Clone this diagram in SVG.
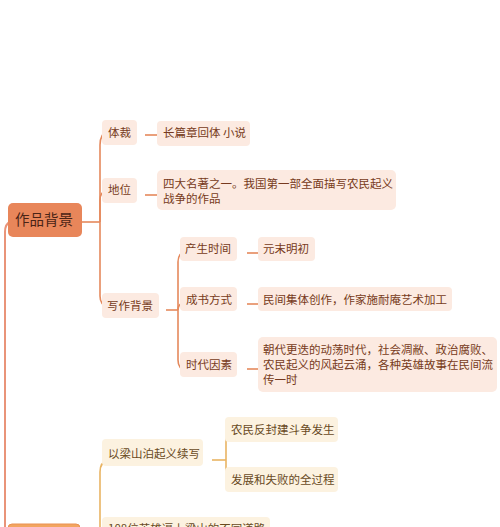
<svg xmlns="http://www.w3.org/2000/svg" width="500" height="527" viewBox="0 0 500 527">
<style>
text{font-family:"Noto Sans CJK SC","Noto Sans",sans-serif;}
.main{fill:#E8865A;}
.mt{font-size:14.5px;fill:#4A2416;}
.pb{fill:#FCEAE1;}
.pt{font-size:11.5px;fill:#773A20;}
.yb{fill:#FCF2E0;}
.yt{font-size:11.5px;fill:#694A1E;}
.oc{fill:none;stroke:#E5895C;stroke-width:1.6;}
.yc{fill:none;stroke:#E9B463;stroke-width:1.6;}
.tc{fill:none;stroke:#E99479;stroke-width:2;}
</style>
<rect width="500" height="527" fill="#FFFFFF"/>
<g id="connectors">
<path class="tc" d="M5 527 V232 Q5 224 10 222"/>
<path class="oc" d="M82 222 H100"/>
<path class="oc" d="M100 222 V145 Q100 134 108 130"/>
<path class="oc" d="M100 222 V200 Q100 192 107 190"/>
<path class="oc" d="M100 222 V296 Q100 305 108 307"/>
<path class="oc" d="M145 135 H165"/>
<path class="oc" d="M145 195 H165"/>
<path class="oc" d="M166 310 H178"/>
<path class="oc" d="M178 310 V262 Q178 253 186 251"/>
<path class="oc" d="M178 310 Q178 303 186 302"/>
<path class="oc" d="M178 310 V360 Q178 369 186 370"/>
<path class="oc" d="M247 253 H265"/>
<path class="oc" d="M247 304 H265"/>
<path class="oc" d="M247 369 H265"/>
<path class="yc" d="M100 527 V472 Q100 462 108 460"/>
<path class="yc" d="M212 460 H226"/>
<path class="yc" d="M226 460 V442 Q226 433 233 431"/>
<path class="yc" d="M226 460 V472 Q226 481 233 482"/>
</g>
<g id="n-main">
<rect class="main" x="8" y="203" width="74" height="34" rx="5"/>
<text class="mt" x="15" y="225">作品背景</text>
</g>
<g id="n-ticai">
<rect class="pb" x="102" y="120" width="35" height="25" rx="4"/>
<text class="pt" x="108" y="137">体裁</text>
</g>
<g id="n-diwei">
<rect class="pb" x="102" y="178" width="35" height="25" rx="4"/>
<text class="pt" x="108" y="194">地位</text>
</g>
<g id="n-xiezuo">
<rect class="pb" x="102" y="293" width="57" height="25" rx="4"/>
<text class="pt" x="107" y="310">写作背景</text>
</g>
<g id="n-changpian">
<rect class="pb" x="157" y="121" width="93" height="25" rx="4"/>
<text class="pt" x="163" y="137">长篇章回体 小说</text>
</g>
<g id="n-sida">
<rect class="pb" x="157" y="170" width="239" height="40" rx="5"/>
<text class="pt" x="163" y="188">四大名著之一。我国第一部全面描写农民起义</text>
<text class="pt" x="163" y="203">战争的作品</text>
</g>
<g id="n-chansheng">
<rect class="pb" x="180" y="237" width="57" height="24" rx="4"/>
<text class="pt" x="185" y="253">产生时间</text>
</g>
<g id="n-chengshu">
<rect class="pb" x="180" y="287" width="57" height="24" rx="4"/>
<text class="pt" x="186" y="304">成书方式</text>
</g>
<g id="n-shidai">
<rect class="pb" x="180" y="352" width="57" height="25" rx="4"/>
<text class="pt" x="186" y="369">时代因素</text>
</g>
<g id="n-yuanmo">
<rect class="pb" x="258" y="237" width="57" height="24" rx="4"/>
<text class="pt" x="263" y="253">元末明初</text>
</g>
<g id="n-minjian">
<rect class="pb" x="258" y="287" width="194" height="24" rx="4"/>
<text class="pt" x="263" y="304">民间集体创作，作家施耐庵艺术加工</text>
</g>
<g id="n-chaodai">
<rect class="pb" x="258" y="337" width="239" height="55" rx="5"/>
<text class="pt" x="263" y="354">朝代更迭的动荡时代，社会凋敝、政治腐败、</text>
<text class="pt" x="263" y="369">农民起义的风起云涌，各种英雄故事在民间流</text>
<text class="pt" x="263" y="384">传一时</text>
</g>
<g id="n-liangshan">
<rect class="yb" x="102" y="439" width="101" height="27" rx="4"/>
<text class="yt" x="108" y="458">以梁山泊起义续写</text>
</g>
<g id="n-nongmin">
<rect class="yb" x="225" y="417" width="113" height="25" rx="4"/>
<text class="yt" x="231" y="434">农民反封建斗争发生</text>
</g>
<g id="n-fazhan">
<rect class="yb" x="225" y="467" width="113" height="25" rx="4"/>
<text class="yt" x="231" y="484">发展和失败的全过程</text>
</g>
<g id="n-108">
<rect class="yb" x="102" y="517" width="168" height="25" rx="4"/>
<text class="yt" x="108" y="533">108位英雄逼上梁山的不同道路</text>
</g>
<g id="n-main2">
<rect x="8" y="524" width="72" height="30" rx="4" fill="#F2A560" stroke="#E99152" stroke-width="1"/>
</g>
</svg>
